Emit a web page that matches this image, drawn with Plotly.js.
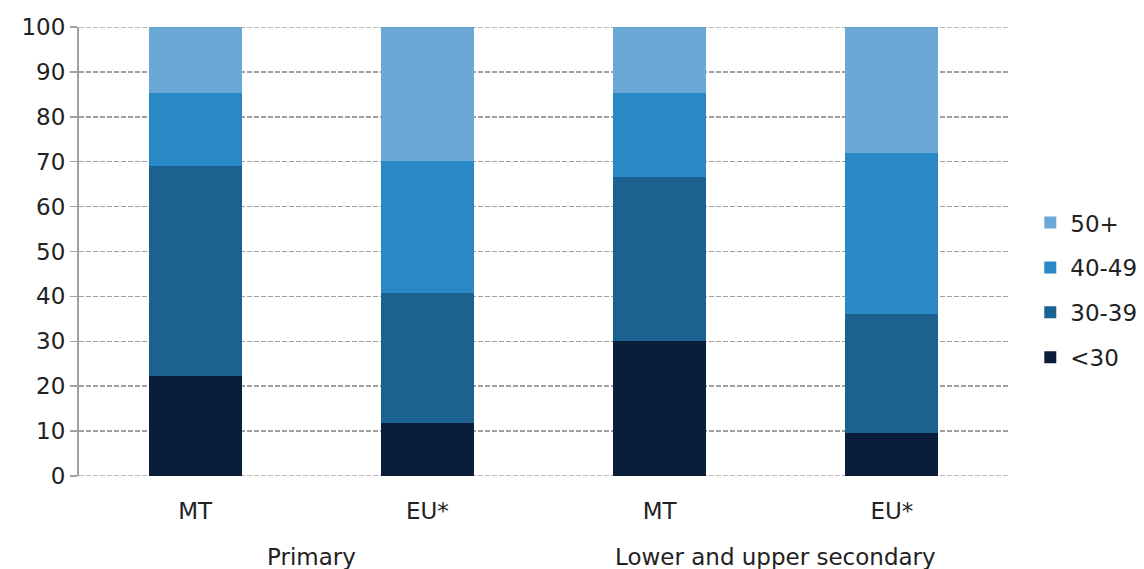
<!DOCTYPE html>
<html>
<head>
<meta charset="utf-8">
<script src="https://cdn.plot.ly/plotly-3.0.1.min.js"></script>
<style>html,body{margin:0;padding:0;background:#fff}#chart{width:1144px;height:569px}</style>
</head>
<body>
<div id="chart"></div>
<script>
const categories = ["MT", "EU*", "MT", "EU*"];
const groups = ["Primary", "Lower and upper secondary"];
const under30 = [22.3, 11.8, 30.1, 9.6];
const age30to39 = [46.7, 29.0, 36.5, 26.5];
const age40to49 = [16.3, 29.4, 18.7, 35.8];
const age50plus = [14.7, 29.8, 14.7, 28.1];
const seriesNames = ["<30", "30-39", "40-49", "50+"];
const colors = ["#0A1E3B", "#1B6290", "#2A88C6", "#6BA8D5"];

const xpos = categories.map((c, i) => i);
const seriesValues = [under30, age30to39, age40to49, age50plus];
const font = "Verdana, 'DejaVu Sans', sans-serif";
const gridColor = "#A0A0A0";
const gridDash = "5px,2px";

const traces = seriesValues.map((vals, k) => ({
  type: "bar",
  x: xpos,
  y: vals,
  name: seriesNames[k],
  legendgroup: "g" + k,
  legendrank: seriesNames.length - k,
  marker: {color: colors[k], line: {width: 0}},
  hoverinfo: "name+y"
}));

const layout = {
  width: 1144,
  height: 569,
  barmode: "stack",
  bargap: 0.6,
  margin: {l: 79, r: 136, t: 27, b: 93, autoexpand: false},
  paper_bgcolor: "#fff",
  plot_bgcolor: "#fff",
  font: {family: font, size: 23, color: "#222"},
  showlegend: true,
  legend: {
    x: 1.024, xanchor: "left",
    y: 0.414, yanchor: "middle",
    traceorder: "grouped",
    tracegroupgap: 12,
    font: {family: font, size: 23, color: "#222"},
    itemwidth: 30
  },
  xaxis: {
    range: [-0.5, 3.5],
    tickvals: xpos,
    ticktext: categories,
    showgrid: false,
    zeroline: false,
    showline: false,
    ticks: "",
    ticklabelstandoff: 19,
    tickfont: {family: font, size: 23, color: "#222"}
  },
  yaxis: {
    range: [0, 100],
    dtick: 10,
    tick0: 0,
    showgrid: true,
    gridcolor: gridColor,
    griddash: gridDash,
    gridwidth: 1.5,
    zeroline: false,
    showline: true,
    linecolor: gridColor,
    linewidth: 2,
    ticks: "outside",
    ticklen: 7,
    tickcolor: gridColor,
    tickwidth: 1.5,
    tickfont: {family: font, size: 23, color: "#222"}
  },
  shapes: [0, 100].map(v => ({
    type: "line",
    xref: "paper", x0: 0, x1: 1,
    yref: "y", y0: v, y1: v,
    layer: "below",
    line: {color: gridColor, width: 1.5, dash: gridDash}
  })),
  annotations: groups.map((g, i) => ({
    text: g,
    x: i * 2 + 0.5,
    xref: "x",
    y: -0.18,
    yref: "paper",
    xanchor: "center",
    yanchor: "middle",
    showarrow: false,
    font: {family: font, size: 23, color: "#222"}
  }))
};

Plotly.newPlot("chart", traces, layout, {displayModeBar: false, staticPlot: true});
</script>
</body>
</html>
